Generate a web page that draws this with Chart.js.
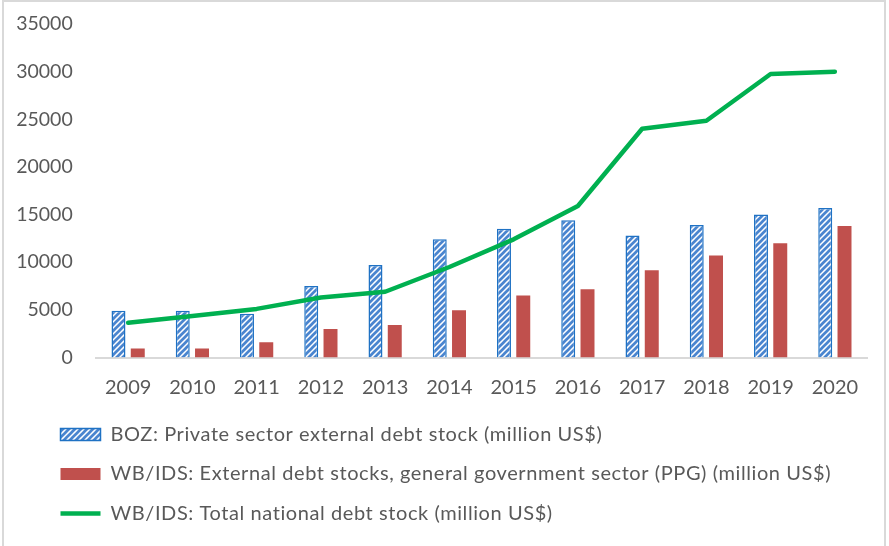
<!DOCTYPE html>
<html>
<head>
<meta charset="utf-8">
<script src="https://cdn.jsdelivr.net/npm/chart.js@4/dist/chart.umd.min.js"></script>
<style>
  html, body { margin: 0; padding: 0; background: #ffffff; }
  #wrap { position: relative; width: 889px; height: 546px; overflow: hidden; }
  #frame { position: absolute; left: 2px; top: 0px; width: 880px; height: 560px; border: 2px solid #d9d9d9; pointer-events: none; }
  canvas { position: absolute; left: 0; top: 0; }
</style>
</head>
<body>
<div id="wrap">
  <canvas id="chart" width="889" height="546"></canvas>
  <div id="frame"></div>
</div>
<script>
// Years on the category axis
const years = ['2009', '2010', '2011', '2012', '2013', '2014', '2015', '2016', '2017', '2018', '2019', '2020'];

// BOZ: private sector external debt stock (million US$)
const privateDebt = [4900, 4900, 4600, 7500, 9700, 12400, 13500, 14400, 12800, 13900, 15000, 15700];

// WB/IDS: external debt stocks, general government sector (PPG) (million US$)
const publicDebt = [950, 950, 1600, 3000, 3400, 4950, 6500, 7150, 9150, 10700, 12000, 13800];

// WB/IDS: total national debt stock (million US$)
const totalDebt = [3650, 4350, 5100, 6300, 6900, 9500, 12400, 15900, 24000, 24850, 29750, 30000];

// Value axis ticks
const yTicks = [0, 5000, 10000, 15000, 20000, 25000, 30000, 35000];

const seriesNames = [
  'BOZ: Private sector external debt stock (million US$)',
  'WB/IDS: External debt stocks, general government sector (PPG) (million US$)',
  'WB/IDS: Total national debt stock (million US$)'
];

// Diagonal hatch fill for the private-sector bars
function makeHatch() {
  const s = 6;
  const c = document.createElement('canvas');
  c.width = s; c.height = s;
  const g = c.getContext('2d');
  g.fillStyle = '#ffffff';
  g.fillRect(0, 0, s, s);
  g.strokeStyle = '#4a85cf';
  g.lineWidth = 2.7;
  g.beginPath();
  g.moveTo(-1, s + 1); g.lineTo(s + 1, -1);
  g.moveTo(-1, 1); g.lineTo(1, -1);
  g.moveTo(s - 1, s + 1); g.lineTo(s + 1, s - 1);
  g.stroke();
  return g.createPattern(c, 'repeat');
}

const LEGEND_SPACING = '0.58px';
const LEGEND_SHIFT = 31;

// Wider letter spacing for the legend text, and a nudge of the legend to the right
const legendTweaks = {
  id: 'legendTweaks',
  beforeLayout(chart) { chart.ctx.letterSpacing = LEGEND_SPACING; },
  afterLayout(chart) {
    chart.ctx.letterSpacing = '0px';
    const lg = chart.legend;
    if (lg && !lg._tweaked) {
      const orig = lg.draw.bind(lg);
      lg.draw = function () {
        const c = this.ctx;
        c.save();
        c.letterSpacing = LEGEND_SPACING;
        orig();
        c.restore();
      };
      lg._tweaked = true;
    }
    if (lg) { lg.left += LEGEND_SHIFT; lg.right += LEGEND_SHIFT; }
  }
};

const ctx = document.getElementById('chart').getContext('2d');
const hatch = makeHatch();
const textColor = '#595959';
const fontFamily = 'Lato, "Open Sans", sans-serif';

new Chart(ctx, {
  data: {
    labels: years,
    datasets: [
      {
        type: 'bar',
        label: seriesNames[0],
        data: privateDebt,
        backgroundColor: hatch,
        borderColor: '#1f72c4',
        borderWidth: 1.5,
        categoryPercentage: 0.6,
        barPercentage: 0.725,
        pointStyle: 'rect',
        order: 1
      },
      {
        type: 'bar',
        label: seriesNames[1],
        data: publicDebt,
        backgroundColor: '#c0504d',
        borderColor: '#c0504d',
        borderWidth: 0,
        categoryPercentage: 0.6,
        barPercentage: 0.725,
        pointStyle: 'rect',
        order: 1
      },
      {
        type: 'line',
        label: seriesNames[2],
        data: totalDebt,
        borderColor: '#00b050',
        backgroundColor: '#00b050',
        borderWidth: 4.5,
        borderCapStyle: 'round',
        borderJoinStyle: 'round',
        tension: 0,
        pointRadius: 0,
        pointHoverRadius: 0,
        pointStyle: 'line',
        fill: false,
        order: 0
      }
    ]
  },
  plugins: [legendTweaks],
  options: {
    responsive: false,
    animation: false,
    devicePixelRatio: 1,
    layout: { padding: { left: 10, top: 24, right: 22, bottom: 12.5 } },
    plugins: {
      tooltip: { enabled: false },
      legend: {
        position: 'bottom',
        align: 'start',
        labels: {
          usePointStyle: true,
          pointStyleWidth: 40,
          boxHeight: 12,
          padding: 19.5,
          color: textColor,
          font: { family: fontFamily, size: 20 },
          sort: (a, b) => a.datasetIndex - b.datasetIndex
        }
      }
    },
    scales: {
      x: {
        grid: { display: false, drawTicks: false },
        border: { display: true, color: '#d9d9d9', width: 2 },
        ticks: {
          color: textColor,
          font: { family: fontFamily, size: 20 },
          padding: 18,
          maxRotation: 0
        },
        afterFit: (scale) => { scale.height = 47.5; }
      },
      y: {
        min: 0,
        max: 35000,
        afterBuildTicks: (scale) => { scale.ticks = yTicks.map(v => ({ value: v })); },
        grid: { display: false, drawTicks: false },
        border: { display: false },
        ticks: {
          color: textColor,
          font: { family: fontFamily, size: 19.5 },
          padding: 23.3,
          callback: (v) => String(v)
        },
        afterFit: (scale) => {
          scale.width = 86;
          scale.paddingTop = 10;
          scale.paddingBottom = 10;
        }
      }
    }
  }
});
</script>
</body>
</html>
